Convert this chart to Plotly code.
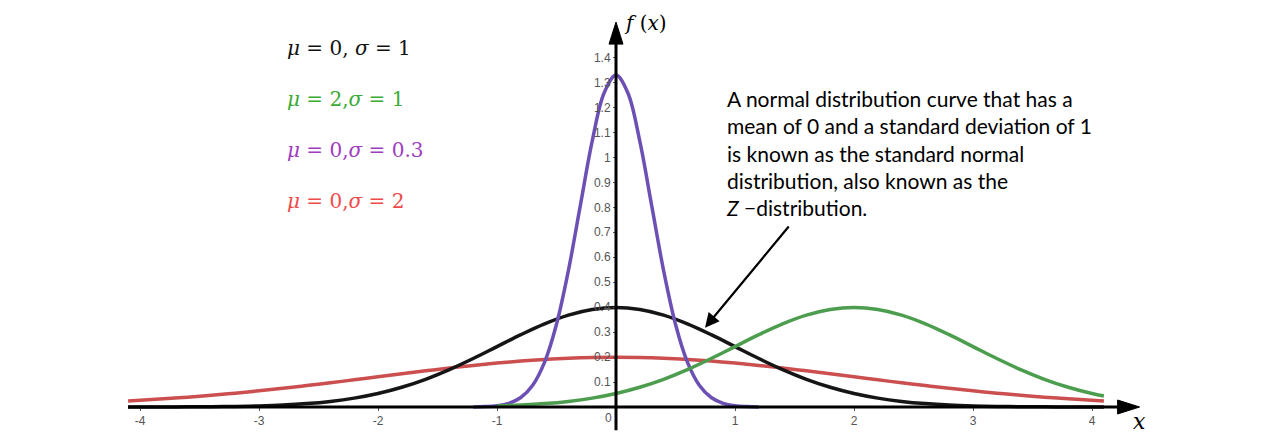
import plotly.graph_objects as go

# ---- data ----
x_wide = [-4.1, -4.0, -3.8, -3.6, -3.4, -3.2, -3.0, -2.8, -2.6, -2.4, -2.2, -2.0,
          -1.8, -1.6, -1.4, -1.2, -1.0, -0.8, -0.6, -0.4, -0.2, 0.0,
          0.2, 0.4, 0.6, 0.8, 1.0, 1.2, 1.4, 1.6, 1.8, 2.0, 2.2, 2.4, 2.6, 2.8,
          3.0, 3.2, 3.4, 3.6, 3.8, 4.0, 4.1]
y_std = [0.0001, 0.0001, 0.0003, 0.0006, 0.0012, 0.0024, 0.0044, 0.0079, 0.0136, 0.0224,
         0.0355, 0.0540, 0.0790, 0.1109, 0.1497, 0.1942, 0.2420, 0.2897, 0.3332, 0.3683,
         0.3910, 0.3989,
         0.3910, 0.3683, 0.3332, 0.2897, 0.2420, 0.1942, 0.1497, 0.1109, 0.0790, 0.0540,
         0.0355, 0.0224, 0.0136, 0.0079, 0.0044, 0.0024, 0.0012, 0.0006, 0.0003, 0.0001, 0.0001]
y_sd2 = [0.0244, 0.0270, 0.0328, 0.0395, 0.0470, 0.0555, 0.0648, 0.0748, 0.0857, 0.0971,
         0.1089, 0.1210, 0.1330, 0.1449, 0.1561, 0.1666, 0.1760, 0.1842, 0.1907, 0.1955,
         0.1985, 0.1995,
         0.1985, 0.1955, 0.1907, 0.1842, 0.1760, 0.1666, 0.1561, 0.1449, 0.1330, 0.1210,
         0.1089, 0.0971, 0.0857, 0.0748, 0.0648, 0.0555, 0.0470, 0.0395, 0.0328, 0.0270, 0.0244]

x_green = [-1.0, -0.8, -0.6, -0.4, -0.2, 0.0, 0.2, 0.4, 0.6, 0.8, 1.0, 1.2, 1.4, 1.6, 1.8,
           2.0, 2.2, 2.4, 2.6, 2.8, 3.0, 3.2, 3.4, 3.6, 3.8, 4.0, 4.1]
y_green = [0.0044, 0.0079, 0.0136, 0.0224, 0.0355, 0.0540, 0.0790, 0.1109, 0.1497, 0.1942,
           0.2420, 0.2897, 0.3332, 0.3683, 0.3910, 0.3989, 0.3910, 0.3683, 0.3332, 0.2897,
           0.2420, 0.1942, 0.1497, 0.1109, 0.0790, 0.0540, 0.0440]

x_narrow = [-1.2, -1.1, -1.0, -0.9, -0.8, -0.7, -0.6, -0.5, -0.4, -0.3, -0.2, -0.1, 0.0,
            0.1, 0.2, 0.3, 0.4, 0.5, 0.6, 0.7, 0.8, 0.9, 1.0, 1.1, 1.2]
y_narrow = [0.0004, 0.0016, 0.0051, 0.0148, 0.0380, 0.0874, 0.1800, 0.3317, 0.5467, 0.8066,
            1.0648, 1.2579, 1.3298,
            1.2579, 1.0648, 0.8066, 0.5467, 0.3317, 0.1800, 0.0874, 0.0380, 0.0148, 0.0051,
            0.0016, 0.0004]

x_ticks = [-4, -3, -2, -1, 1, 2, 3, 4]
y_ticks = [0.1, 0.2, 0.3, 0.4, 0.5, 0.6, 0.7, 0.8, 0.9, 1.0, 1.1, 1.2, 1.3, 1.4]
y_tick_labels = ["0.1", "0.2", "0.3", "0.4", "0.5", "0.6", "0.7", "0.8", "0.9", "1",
                 "1.1", "1.2", "1.3", "1.4"]

legend_labels = ["<i>μ</i> = 0, <i>σ</i> = 1", "<i>μ</i> = 2,<i>σ</i> = 1",
                 "<i>μ</i> = 0,<i>σ</i> = 0.3", "<i>μ</i> = 0,<i>σ</i> = 2"]
legend_colors = ["#111111", "#3aab35", "#a03cc0", "#ef4a4a"]

note_text = ("A normal distribution curve that has a<br>"
             "mean of 0 and a standard deviation of 1<br>"
             "is known as the standard normal<br>"
             "distribution, also known as the<br>"
             "<i>Z</i> −distribution.")

# ---- figure ----
W, H = 1280, 443
OFF = 8                      # page body margin shifts the figure by 8 px
PX0, PY0 = 616 - OFF, 407 - OFF   # pixel of data origin inside the figure
UX, UY = 119.0, 249.6        # pixels per data unit
X0, XR = -PX0 / UX, (W - PX0) / UX
Y0, YR = -(H - PY0) / UY, PY0 / UY


def px(xp):
    return (xp - OFF) / W


def py(yp):
    return 1 - (yp - OFF) / H


fig = go.Figure()
fig.add_trace(go.Scatter(x=x_wide, y=y_sd2, mode="lines", line=dict(color="#cc4f4f", width=3.5, shape="spline")))
fig.add_trace(go.Scatter(x=x_wide, y=y_std, mode="lines", line=dict(color="#151515", width=3.5, shape="spline")))
fig.add_trace(go.Scatter(x=x_narrow, y=y_narrow, mode="lines", line=dict(color="#6c50b4", width=3.5, shape="spline")))
fig.add_trace(go.Scatter(x=x_green, y=y_green, mode="lines", line=dict(color="#4c9e4e", width=3.5, shape="spline")))

# axis lines (drawn on top of the curves)
fig.add_shape(type="line", x0=-4.1, x1=4.25, y0=0, y1=0, xref="x", yref="y",
              line=dict(color="black", width=3), layer="above")
fig.add_shape(type="line", x0=0, x1=0, y0=-0.093, y1=1.48, xref="x", yref="y",
              line=dict(color="black", width=3), layer="above")
fig.add_shape(type="path", xsizemode="pixel", ysizemode="pixel", xanchor=4.40, yanchor=0,
              path="M 0 0 L -22 7 L -22 -7 Z", fillcolor="black", line=dict(color="black", width=1),
              xref="x", yref="y", layer="above")
fig.add_shape(type="path", xsizemode="pixel", ysizemode="pixel", xanchor=0, yanchor=1.542,
              path="M 0 0 L -7 -22 L 7 -22 Z", fillcolor="black", line=dict(color="black", width=1),
              xref="x", yref="y", layer="above")

# axis titles
fig.add_annotation(x=px(622), y=py(23), xref="paper", yref="paper", text="<i>f</i> (<i>x</i>)",
                   showarrow=False, xanchor="left", yanchor="middle",
                   font=dict(family="DejaVu Serif", size=20, color="black"))
fig.add_annotation(x=px(1131), y=py(421), xref="paper", yref="paper", text="<i>x</i>", showarrow=False,
                   xanchor="left", yanchor="middle", font=dict(family="DejaVu Serif", size=22, color="black"))
fig.add_annotation(x=px(614), y=py(418), xref="paper", yref="paper", text="0", showarrow=False,
                   xanchor="right", yanchor="middle", font=dict(family="Liberation Sans", size=12, color="#555555"))

# series labels
for i, (lab, col) in enumerate(zip(legend_labels, legend_colors)):
    fig.add_annotation(x=px(285), y=py(48 + i * 51), xref="paper", yref="paper", text=lab,
                       showarrow=False, xanchor="left", yanchor="middle",
                       font=dict(family="DejaVu Serif", size=20, color=col))

# note text and arrow
fig.add_annotation(x=px(724), y=py(84), xref="paper", yref="paper", text=note_text,
                   showarrow=False, xanchor="left", yanchor="top", align="left",
                   font=dict(family="Lato", size=21, color="black"))
fig.add_annotation(x=0.748, y=0.318, xref="x", yref="y", ax=1.462, ay=0.729, axref="x", ayref="y",
                   text="", showarrow=True, arrowhead=2, arrowsize=1.3, arrowwidth=2.2, arrowcolor="black")

fig.update_layout(
    width=W, height=H, margin=dict(l=0, r=0, t=0, b=0),
    paper_bgcolor="white", plot_bgcolor="white", showlegend=False,
    xaxis=dict(range=[X0, XR], domain=[0, 1], showgrid=False, zeroline=False, showline=False,
               tickvals=x_ticks, ticktext=[str(v) for v in x_ticks], ticks="outside", ticklen=3,
               tickcolor="#555555", tickwidth=1, anchor="free", position=(0 - Y0) / (YR - Y0),
               tickfont=dict(family="Liberation Sans", size=12, color="#555555"), fixedrange=True),
    yaxis=dict(range=[Y0, YR], domain=[0, 1], showgrid=False, zeroline=False, showline=False,
               tickvals=y_ticks, ticktext=y_tick_labels, ticks="outside", ticklen=3,
               tickcolor="#555555", tickwidth=1, anchor="free", position=(0 - X0) / (XR - X0),
               tickfont=dict(family="Liberation Sans", size=12, color="#555555"), fixedrange=True),
)

fig.write_html("out.html")
